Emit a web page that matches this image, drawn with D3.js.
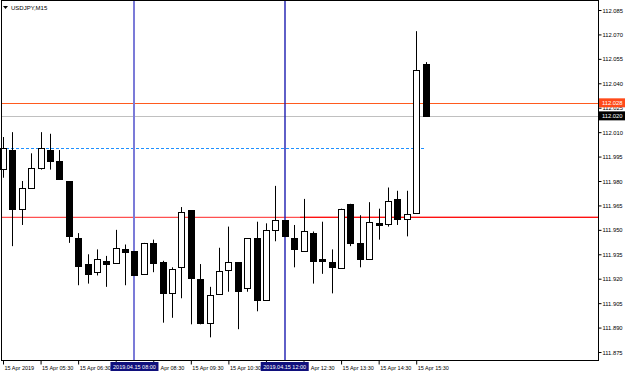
<!DOCTYPE html>
<html>
<head>
<meta charset="utf-8">
<script src="https://cdn.jsdelivr.net/npm/d3@7"></script>
<style>
body { margin: 0; background: #fff; }
svg { display: block; font-family: "Liberation Sans", Arial, sans-serif; }
</style>
</head>
<body>
<svg width="625" height="373"></svg>
<script>
const width = 625, height = 373;
const plotLeft = 1, plotRight = 598, plotTop = 0, plotBottom = 360;
const svg = d3.select("svg");

// USDJPY M15, 15 Apr 2019, candles from 04:30 to 15:45
const opens  = [111.987,111.999,111.963,111.976,111.988,111.999,111.992,111.980,111.945,111.929,111.924,111.931,111.930,111.938,111.937,111.923,111.942,111.930,111.911,111.927,111.962,111.920,111.893,111.911,111.925,111.930,111.914,111.945,111.907,111.950,111.956,111.945,111.937,111.948,111.932,111.930,111.927,111.966,111.942,111.932,111.954,111.954,111.969,111.957,111.960,112.052];
const highs  = [112.007,112.010,111.980,111.997,112.010,112.009,111.999,111.980,111.948,111.935,111.938,111.934,111.950,111.941,111.937,111.942,111.944,111.931,111.927,111.964,111.962,111.929,111.915,111.939,111.952,111.930,111.945,111.955,111.954,111.977,111.956,111.953,111.969,111.949,111.955,111.938,111.963,111.966,111.959,111.967,111.963,111.976,111.974,111.974,112.072,112.053];
const lows   = [111.982,111.940,111.953,111.976,111.987,111.987,111.981,111.942,111.916,111.917,111.922,111.915,111.930,111.916,111.922,111.923,111.924,111.893,111.896,111.908,111.892,111.892,111.884,111.910,111.912,111.889,111.912,111.900,111.907,111.943,111.946,111.927,111.937,111.917,111.923,111.911,111.927,111.940,111.927,111.932,111.944,111.952,111.953,111.946,111.960,112.020];
const closes = [112.000,111.963,111.976,111.988,112.000,111.992,111.981,111.946,111.928,111.923,111.932,111.929,111.939,111.936,111.922,111.942,111.930,111.911,111.926,111.961,111.920,111.893,111.910,111.925,111.930,111.912,111.945,111.907,111.950,111.956,111.946,111.938,111.949,111.931,111.931,111.927,111.963,111.942,111.932,111.955,111.953,111.968,111.957,111.960,112.048,112.020];

const yTicks = [112.085,112.070,112.055,112.040,112.025,112.010,111.995,111.980,111.965,111.950,111.935,111.920,111.905,111.890,111.875];
const xTicks = ["04:30","05:30","06:30","07:30","08:30","09:30","10:30","11:30","12:30","13:30","14:30","15:30"];
const vLines = ["08:00","12:00"];

const askPrice = 112.028, bidPrice = 112.020;
const levelPrice = 111.958, roundPrice = 112.000;

const parseTime = d3.timeParse("%Y-%m-%d %H:%M");
const start = parseTime("2019-04-15 04:30");
const times = opens.map((_, i) => d3.timeMinute.offset(start, 15 * i));
const t = s => parseTime("2019-04-15 " + s);

const x = d3.scaleTime()
    .domain([times[0], times[times.length - 1]])
    .range([3, 425.6]);

const y = d3.scaleLinear()
    .domain([111.875, 112.085])
    .range([352, 10]);

const px = v => Math.round(v) + 0.5;
const boxHalf = 24;
const fontSize = "5.5px";

// horizontal lines
svg.append("line")
    .attr("x1", plotLeft).attr("x2", plotRight)
    .attr("y1", Math.round(y(levelPrice)) + 0.4).attr("y2", Math.round(y(levelPrice)) + 0.4)
    .attr("stroke", "#ff5050").attr("stroke-width", 1.2);
svg.append("line")
    .attr("x1", 300).attr("x2", plotRight)
    .attr("y1", Math.round(y(levelPrice)) + 0.4).attr("y2", Math.round(y(levelPrice)) + 0.4)
    .attr("stroke", "#ff1010").attr("stroke-width", 1.2);

svg.append("line")
    .attr("x1", plotLeft).attr("x2", 426)
    .attr("y1", px(y(roundPrice))).attr("y2", px(y(roundPrice)))
    .attr("stroke", "#1e90ff").attr("stroke-dasharray", "3,2");

svg.append("line")
    .attr("x1", plotLeft).attr("x2", plotRight)
    .attr("y1", px(y(askPrice))).attr("y2", px(y(askPrice)))
    .attr("stroke", "#ff5a1e");
svg.append("line")
    .attr("x1", plotLeft).attr("x2", plotRight)
    .attr("y1", px(y(bidPrice))).attr("y2", px(y(bidPrice)))
    .attr("stroke", "#c0c0c0");

// vertical lines
svg.append("line")
    .attr("x1", Math.round(x(t(vLines[0])))).attr("x2", Math.round(x(t(vLines[0]))))
    .attr("y1", plotTop).attr("y2", plotBottom)
    .attr("stroke", "#7b7bd8").attr("stroke-width", 2);
svg.append("line")
    .attr("x1", Math.round(x(t(vLines[1])))).attr("x2", Math.round(x(t(vLines[1]))))
    .attr("y1", plotTop).attr("y2", plotBottom)
    .attr("stroke", "#1c1cb0").attr("stroke-width", 1.4);

// candles
const candles = svg.append("g");
times.forEach((d, i) => {
    const cx = Math.round(x(d));
    const o = opens[i], c = closes[i];
    const up = c >= o;
    candles.append("line")
        .attr("x1", cx + 0.5).attr("x2", cx + 0.5)
        .attr("y1", y(highs[i])).attr("y2", y(lows[i]))
        .attr("stroke", "#000");
    const top = y(Math.max(o, c)), bot = y(Math.min(o, c));
    if (up) {
        candles.append("rect")
            .attr("x", cx - 2.5).attr("y", Math.round(top) + 0.5)
            .attr("width", 6).attr("height", Math.max(1, Math.round(bot - top)))
            .attr("fill", "#fff").attr("stroke", "#000");
    } else {
        candles.append("rect")
            .attr("x", cx - 3).attr("y", Math.round(top))
            .attr("width", 7).attr("height", Math.max(2, Math.round(bot - top) + 1))
            .attr("fill", "#000");
    }
});

// frame
svg.append("rect")
    .attr("x", plotLeft + 0.5).attr("y", plotTop + 0.5)
    .attr("width", plotRight - plotLeft).attr("height", plotBottom - plotTop)
    .attr("fill", "none").attr("stroke", "#000");

// price axis
const yAxis = svg.append("g")
    .attr("transform", `translate(${plotRight + 0.5},0)`)
    .call(d3.axisRight(y).tickValues(yTicks).tickFormat(d3.format(".3f")).tickSize(3).tickSizeOuter(0));
yAxis.select(".domain").remove();
yAxis.selectAll("text")
    .attr("x", 4)
    .attr("dy", "0.35em")
    .style("font-size", "5.8px")
    .attr("fill", "#000");

// time axis; labels under the marker boxes are cut like in the terminal
const boxes = vLines.map(s => [x(t(s)) - boxHalf, x(t(s)) + boxHalf]);
const hidden = d => boxes.find(([a, b]) => x(d) >= a - 2 && x(d) <= b);

const xAxis = svg.append("g")
    .attr("transform", `translate(0,${plotBottom + 0.5})`)
    .call(d3.axisBottom(x)
        .tickValues(xTicks.map(t))
        .tickFormat((d, i) => {
            const b = hidden(d);
            if (b && x(d) < b[0] + 10) return "";
            if (b) return d3.timeFormat("Apr %H:%M")(d);
            return i === 0 ? "15 Apr 2019" : d3.timeFormat("15 Apr %H:%M")(d);
        })
        .tickSize(4).tickSizeOuter(0));
xAxis.select(".domain").remove();
xAxis.selectAll("text")
    .attr("text-anchor", "start")
    .attr("x", d => { const b = hidden(d); return b ? b[1] + 1.5 - x(d) : 1; })
    .attr("y", 6)
    .attr("dy", "0.7em")
    .style("font-size", fontSize)
    .attr("fill", "#000");

// time markers for the vertical lines
vLines.forEach(s => {
    const cx = x(t(s));
    const g = svg.append("g");
    g.append("rect")
        .attr("x", cx - boxHalf).attr("y", 362)
        .attr("width", boxHalf * 2).attr("height", 9)
        .attr("fill", "#10107c");
    g.append("text")
        .attr("x", cx).attr("y", 369)
        .attr("text-anchor", "middle")
        .attr("fill", "#fff")
        .style("font-size", fontSize)
        .text(d3.timeFormat("%Y.%m.%d %H:%M")(t(s)));
});

// price labels
[[askPrice, "#ff4a1a"], [bidPrice, "#000"]].forEach(([p, col]) => {
    const yy = y(p);
    svg.append("rect")
        .attr("x", plotRight + 1).attr("y", yy - 4.5)
        .attr("width", 26).attr("height", 9)
        .attr("fill", col);
    svg.append("text")
        .attr("x", plotRight + 4).attr("y", yy)
        .attr("dy", "0.35em")
        .attr("fill", "#fff")
        .style("font-size", "5.8px")
        .text(d3.format(".3f")(p));
});

// title
svg.append("path")
    .attr("d", "M3,6 L8,6 L5.5,9 Z")
    .attr("fill", "#000");
svg.append("text")
    .attr("x", 11).attr("y", 10)
    .style("font-size", "6px")
    .attr("fill", "#000")
    .text("USDJPY,M15");
</script>
</body>
</html>
